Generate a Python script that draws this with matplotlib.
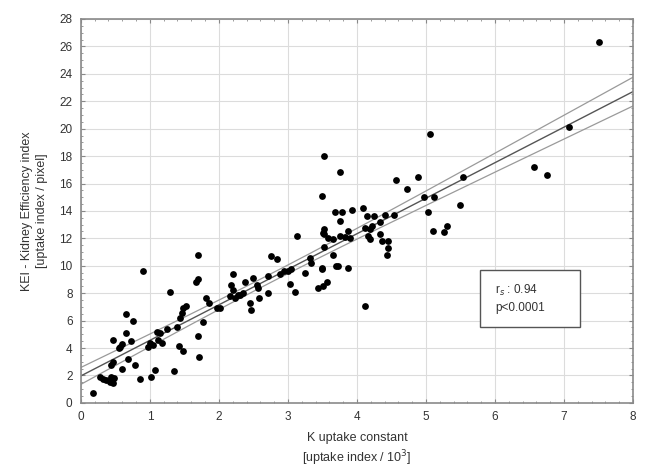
import numpy as np
import matplotlib
matplotlib.use("Agg")
import matplotlib.pyplot as plt
from matplotlib.ticker import MultipleLocator
from matplotlib.patches import Rectangle

plt.rcParams['font.family'] = ['Liberation Sans', 'DejaVu Sans']

k_uptake = [0.17, 0.28, 0.32, 0.37, 0.42, 0.47, 0.44, 0.48, 0.44, 0.47, 0.59, 0.69, 0.78,
            0.46, 0.55, 0.59, 0.57, 0.65, 0.66, 0.76, 0.73, 0.86, 0.90, 1.01, 1.08, 0.98,
            1.00, 1.05, 1.12, 1.10, 1.14, 1.17, 1.25, 1.29, 1.35, 1.40, 1.42, 1.48, 1.43,
            1.46, 1.48, 1.52, 1.67, 1.69, 1.70, 1.70, 1.71, 1.77, 1.81, 1.85, 1.97, 2.02,
            2.16, 2.17, 2.21, 2.21, 2.23, 2.27, 2.30, 2.35, 2.38, 2.45, 2.47, 2.49, 2.55,
            2.56, 2.58, 2.71, 2.71, 2.76, 2.84, 2.88, 2.95, 3.00, 3.05, 3.03, 3.10, 3.13,
            3.24, 3.32, 3.33, 3.43, 3.49, 3.56, 3.51, 3.50, 3.52, 3.51, 3.52, 3.52, 3.50,
            3.52, 3.65, 3.66, 3.68, 3.70, 3.73, 3.75, 3.76, 3.76, 3.79, 3.87, 3.87, 3.90,
            3.93, 4.09, 4.12, 4.12, 4.14, 4.19, 4.19, 4.24, 4.33, 4.33, 4.36, 4.40, 4.43,
            4.45, 4.45, 4.54, 4.57, 4.73, 4.88, 4.97, 5.06, 5.03, 5.11, 5.10, 5.26, 5.30,
            5.49, 5.54, 6.57, 6.76, 7.07, 7.50, 3.58, 3.82, 4.22, 4.16]
kei = [0.7, 1.9, 1.75, 1.65, 1.55, 1.45, 1.9, 1.8, 2.8, 3.0, 2.45, 3.2, 2.8,
       4.6, 4.0, 4.3, 4.1, 5.1, 6.5, 5.95, 4.5, 1.75, 9.6, 1.9, 2.4, 4.1,
       4.35, 4.25, 4.6, 5.2, 5.1, 4.4, 5.4, 8.1, 2.3, 5.5, 4.15, 3.8, 6.2,
       6.55, 6.9, 7.1, 8.8, 9.0, 10.8, 4.85, 3.35, 5.9, 7.65, 7.3, 6.9, 6.9,
       7.8, 8.6, 8.25, 9.4, 7.65, 7.9, 7.9, 8.0, 8.8, 7.3, 6.8, 9.1, 8.6,
       8.4, 7.65, 8.0, 9.25, 10.7, 10.5, 9.4, 9.6, 9.6, 9.8, 8.7, 8.1, 12.2,
       9.5, 10.6, 10.2, 8.35, 9.8, 8.8, 8.5, 9.85, 11.4, 12.4, 12.7, 12.3, 15.1,
       18.0, 10.8, 11.95, 13.9, 10.0, 10.0, 12.2, 13.25, 16.85, 13.9, 9.85, 12.5, 12.0,
       14.1, 14.2, 7.1, 12.75, 13.6, 12.7, 11.95, 13.6, 13.2, 12.3, 11.8, 13.7, 10.8,
       11.3, 11.8, 13.7, 16.25, 15.6, 16.5, 15.0, 19.6, 13.9, 15.0, 12.5, 12.45, 12.9,
       14.4, 16.5, 17.2, 16.6, 20.15, 26.3, 12.0, 12.1, 12.9, 12.2]

x_ticks = list(range(0, 9))
y_ticks = list(range(0, 29, 2))
stat_lines = ["r$_{s}$ : 0.94", "p<0.0001"]

x = np.array(k_uptake)
y = np.array(kei)
n = len(x)
slope, intercept = np.polyfit(x, y, 1)
resid = y - (slope * x + intercept)
s = np.sqrt(np.sum(resid ** 2) / (n - 2))
sxx = np.sum((x - x.mean()) ** 2)
xf = np.linspace(0, 8, 200)
yf = slope * xf + intercept
se = s * np.sqrt(1.0 / n + (xf - x.mean()) ** 2 / sxx)
ci = 1.976 * se

fig = plt.figure(figsize=(6.52, 4.74), dpi=100)
ax = fig.add_axes([0.124, 0.150, 0.847, 0.810])

ax.plot(xf, yf, color='#555555', lw=1.0, zorder=2)
ax.plot(xf, yf + ci, color='#9a9a9a', lw=0.9, zorder=2)
ax.plot(xf, yf - ci, color='#9a9a9a', lw=0.9, zorder=2)
ax.scatter(x, y, s=24, color='black', zorder=3, linewidths=0)

ax.set_xlim(0, 8)
ax.set_ylim(0, 28)
ax.set_xticks(x_ticks)
ax.set_yticks(y_ticks)
ax.xaxis.set_minor_locator(MultipleLocator(0.2))
ax.yaxis.set_minor_locator(MultipleLocator(0.5))
ax.grid(True, which='major', color='#dcdcdc', lw=0.8, zorder=0)
ax.tick_params(which='both', direction='in', top=True, right=True, color='#888888',
               labelsize=8.5, labelcolor='#333333')
ax.tick_params(which='major', length=3, pad=6)
ax.tick_params(which='minor', length=1.5)
for sp in ax.spines.values():
    sp.set_color('#8a8a8a')
    sp.set_linewidth(1.2)

ax.set_xlabel("K uptake constant\n[uptake index / 10$^3$]", fontsize=9, color='#333333',
              linespacing=1.35, labelpad=6)
ax.set_ylabel("KEI - Kidney Efficiency index\n[uptake index / pixel]", fontsize=9,
              color='#333333', linespacing=1.3, labelpad=8)

ax.add_patch(Rectangle((0.723, 0.198), 0.181, 0.148, transform=ax.transAxes,
                       fc='white', ec='#555555', lw=1.0, zorder=4))
ax.text(0.75, 0.272, "\n".join(stat_lines), transform=ax.transAxes, fontsize=8.5,
        color='#333333', va='center', ha='left', linespacing=1.4, zorder=5)

fig.savefig("out.png", dpi=100)
